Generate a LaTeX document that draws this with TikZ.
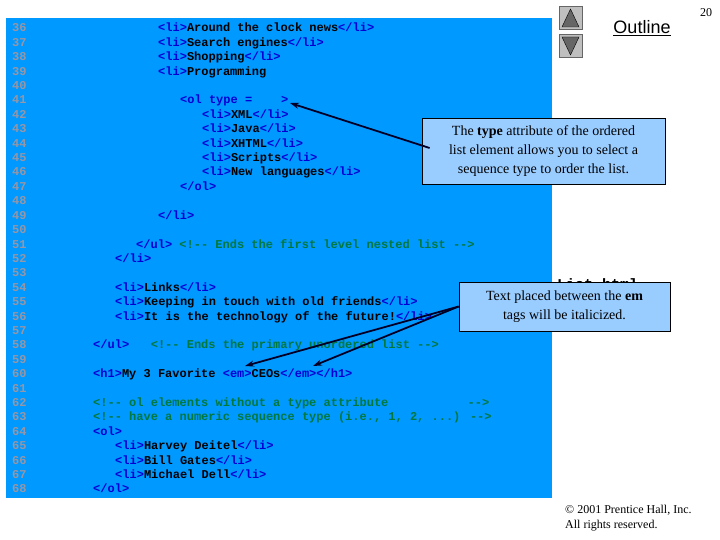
\documentclass[tikz,border=0pt]{standalone}
\usepackage{fontspec}
\setmainfont{Liberation Serif}
\newfontfamily\cf{Liberation Mono}[Ligatures=NoCommon]
\newfontfamily\sansf{Liberation Sans}
\usetikzlibrary{arrows.meta}
\definecolor{codebg}{RGB}{0,153,255}
\definecolor{tagc}{RGB}{0,0,210}
\definecolor{cmtc}{RGB}{0,120,60}
\definecolor{lnc}{RGB}{150,150,165}
\definecolor{callbg}{RGB}{153,204,255}
\newcommand{\tg}[1]{\textcolor{tagc}{#1}}
\newcommand{\cmt}[1]{\textcolor{cmtc}{#1}}
\newcommand{\dd}{-{}-}
\begin{document}
\begin{tikzpicture}[x=1pt,y=-1pt,
  code/.style={anchor=base west,inner sep=0pt,font=\cf\bfseries\fontsize{12}{14}\selectfont},
  ln/.style={anchor=base west,inner sep=0pt,text=lnc,font=\cf\bfseries\fontsize{12}{14}\selectfont},
  call/.style={draw=black,fill=callbg,line width=0.8pt,align=center,font=\fontsize{14}{19}\selectfont,inner sep=0pt},
  arr/.style={-{Stealth[length=9pt,width=6pt]},line width=1.8pt,black!85!blue}]
\useasboundingbox (0,0) rectangle (720,540);
\fill[codebg] (6,18) rectangle (552,498);
\foreach \n [count=\i from 0] in {36,...,68}{
  \node[ln] (l\n) at (12,{32+14.4*\i}) {\n};
}
\def\row#1{{32+14.4*(#1-36)}}
\node[code] (c36) at (158,\row{36}) {\tg{<li>}Around the clock news\tg{</li>}};
\node[code] (c37) at (158,\row{37}) {\tg{<li>}Search engines\tg{</li>}};
\node[code] (c38) at (158,\row{38}) {\tg{<li>}Shopping\tg{</li>}};
\node[code] (c39) at (158,\row{39}) {\tg{<li>}Programming};
\node[code] (c41) at (180,\row{41}) {\tg{<ol type = \phantom{"I"}>}};
\node[code] (c42) at (202,\row{42}) {\tg{<li>}XML\tg{</li>}};
\node[code] (c43) at (202,\row{43}) {\tg{<li>}Java\tg{</li>}};
\node[code] (c44) at (202,\row{44}) {\tg{<li>}XHTML\tg{</li>}};
\node[code] (c45) at (202,\row{45}) {\tg{<li>}Scripts\tg{</li>}};
\node[code] (c46) at (202,\row{46}) {\tg{<li>}New languages\tg{</li>}};
\node[code] (c47) at (180,\row{47}) {\tg{</ol>}};
\node[code] (c49) at (158,\row{49}) {\tg{</li>}};
\node[code] (c51) at (136,\row{51}) {\tg{</ul>}\hspace{7.2pt}\cmt{<!\dd{} Ends the first level nested list \dd>}};
\node[code] (c52) at (115,\row{52}) {\tg{</li>}};
\node[code] (c54) at (115,\row{54}) {\tg{<li>}Links\tg{</li>}};
\node[code] (c55) at (115,\row{55}) {\tg{<li>}Keeping in touch with old friends\tg{</li>}};
\node[code] (c56) at (115,\row{56}) {\tg{<li>}It is the technology of the future!\tg{</li>}};
\node[code] (c58) at (93,\row{58}) {\tg{</ul>}\hspace{21.6pt}\cmt{<!\dd{} Ends the primary unordered list \dd>}};
\node[code] (c60) at (93,\row{60}) {\tg{<h1>}My 3 Favorite \tg{<em>}CEOs\tg{</em></h1>}};
\node[code] (c62) at (93,\row{62}) {\cmt{<!\dd{} ol elements without a type attribute\hspace{79.2pt}\dd>}};
\node[code] (c63) at (93,\row{63}) {\cmt{<!\dd{} have a numeric sequence type (i.e., 1, 2, ...) \dd>}};
\node[code] (c64) at (93,\row{64}) {\tg{<ol>}};
\node[code] (c65) at (115,\row{65}) {\tg{<li>}Harvey Deitel\tg{</li>}};
\node[code] (c66) at (115,\row{66}) {\tg{<li>}Bill Gates\tg{</li>}};
\node[code] (c67) at (115,\row{67}) {\tg{<li>}Michael Dell\tg{</li>}};
\node[code] (c68) at (93,\row{68}) {\tg{</ol>}};
% file name (partly hidden)
\node[anchor=base west,inner sep=0pt,font=\cf\bfseries\fontsize{15}{16}\selectfont] (fname) at (557,289) {List.html};
% callouts
\node[call,minimum width=243pt,minimum height=66pt] (t1) at (543.5,151) {The \textbf{type} attribute of the ordered\\list element allows you to select a\\sequence type to order the list.};
\node[call,minimum width=211pt,minimum height=49pt] (t2) at (564.5,306.5) {Text placed between the \textbf{em}\\tags will be italicized.};
\coordinate (a1) at (290,103);
\coordinate (e1) at (245,366);
\coordinate (e2) at (313,366);
\draw[arr] (t1.west) ++(8,-3) -- (a1);
\draw[arr] (t2.west) -- (e1);
\draw[arr] (t2.west) -- (e2);
% navigation
\node[draw=black!60,fill=black!25,minimum size=23pt,inner sep=0pt] (up) at (570.5,17.5) {};
\node[draw=black!60,fill=black!25,minimum size=23pt,inner sep=0pt] (down) at (570.5,46) {};
\fill[black!60,draw=black] (562,27) -- (579,27) -- (570.5,9) -- cycle;
\fill[black!60,draw=black] (562,37) -- (579,37) -- (570.5,55) -- cycle;
\node[font=\sansf\fontsize{18}{20}\selectfont,inner sep=0pt] (outline) at (642,28) {\underline{Outline}};
\node[font=\fontsize{12}{14}\selectfont,inner sep=0pt] (pg) at (706,13) {20};
\node[anchor=west,align=left,font=\fontsize{12}{15}\selectfont,inner sep=0pt] (copy) at (565,518) {\textcopyright{} 2001 Prentice Hall, Inc.\\All rights reserved.};
\end{tikzpicture}
\end{document}
